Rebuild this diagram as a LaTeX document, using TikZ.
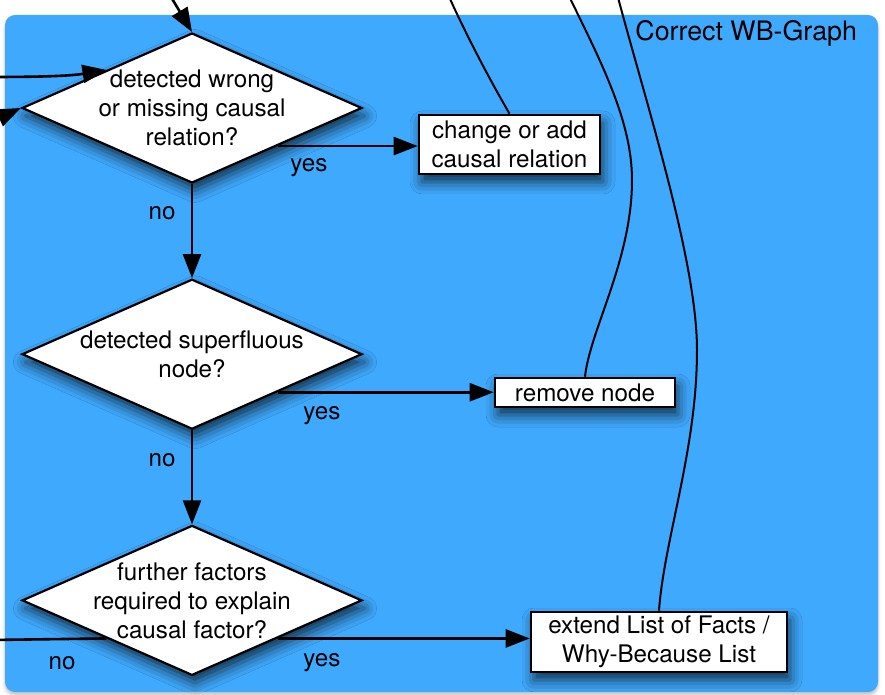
\documentclass[tikz,border=0pt]{standalone}
\usepackage{fontspec}
\setmainfont{TeX Gyre Heros}
\usetikzlibrary{positioning, shapes.geometric, fit, arrows.meta, calc, backgrounds, shadows.blur}
\definecolor{wbblue}{RGB}{63,169,253}

\begin{document}
\begin{tikzpicture}[
    x=0.5pt, y=-0.5pt,
    font=\fontsize{12.1}{14.5}\selectfont,
    arrow/.style={
        -{Triangle[length=12pt,width=9pt]},
        line width=1.3pt
    },
    curve/.style={
        line width=1pt
    },
    soft/.style={
        blur shadow={shadow xshift=1.5pt, shadow yshift=-4pt,
            shadow blur radius=6pt, shadow opacity=70}
    },
    frame/.style={
        rectangle,
        fill=wbblue,
        rounded corners=5pt,
        inner sep=0pt,
        blur shadow={shadow xshift=0pt, shadow yshift=-1.5pt,
            shadow blur radius=1.5pt, shadow opacity=25}
    },
    decision/.style={
        diamond,
        aspect=2.27,
        minimum width=170pt,
        minimum height=75pt,
        inner sep=0pt,
        fill=white,
        draw,
        line width=1.1pt,
        soft
    },
    action/.style={
        rectangle,
        inner sep=0pt,
        align=center,
        fill=white,
        draw,
        line width=1.3pt,
        soft
    },
    ask/.style={
        align=center,
        inner sep=0pt
    }
]
    \useasboundingbox (0,0) rectangle (885,695);

    % Decisions
    \node[decision, label={[ask]center:detected wrong\\or missing causal\\relation?}] (wrong) at (192,108) {};
    \node[decision, below=47pt of wrong, label={[ask]center:detected superfluous\\node?}] (superfl) {};
    \node[decision, below=47pt of superfl, label={[ask]center:further factors\\required to explain\\causal factor?}] (further) {};

    % Actions
    \node[action, minimum width=90.5pt, minimum height=29.5pt] (change) at (509.5,144.5) {change or add\\causal relation};
    \node[action, minimum width=90pt, minimum height=14.5pt] (remove) at (585,392.5) {remove node};
    \node[action, minimum width=128pt, minimum height=30pt] (extend) at (659,642) {extend List of Facts /\\Why-Because List};

    \coordinate (f1) at (5,15);
    \coordinate (f2) at (878,692);
    \begin{scope}[on background layer]
        \node[frame, fit=(f1) (f2)] (wbgraph) {};
    \end{scope}
    \node[anchor=east, font=\fontsize{13.4}{16}\selectfont] (title) at (864,33) {Correct WB-Graph};

    % Incoming
    \coordinate (in1) at (168,-8);
    \coordinate (in2) at (-10,77);
    \coordinate (in3) at (-10,122);
    \draw[arrow] (in1) -- (wrong.north);
    \draw[arrow] (in2) .. controls (40,77) and (70,76) .. (wrong.north west);
    \draw[arrow] (in3) -- (wrong.west);

    % Yes / no
    \draw[arrow] (wrong.south east) -- (wrong.south east -| change.west);
    \draw[arrow] (superfl.south east) -- (superfl.south east -| remove.west);
    \draw[arrow] (further.south east) -- (further.south east -| extend.west);
    \draw[arrow] (wrong) -- (superfl);
    \draw[arrow] (superfl) -- (further);
    \coordinate (out3) at (-10,640);
    \draw[line width=1.3pt] (further.south west) -- (out3);

    \node (yes1) at (309,168) {yes};
    \node (no1) at (162,213) {no};
    \node (yes2) at (322,416) {yes};
    \node (no2) at (162,460) {no};
    \node (no3) at (62,663) {no};
    \node (yes3) at (322,663) {yes};

    % Outgoing
    \coordinate (top1) at (446,-10);
    \coordinate (top2) at (566,-10);
    \coordinate (top3) at (616,-10);
    \draw[curve] (change.north) .. controls (490,80) and (466,35) .. (top1);
    \draw[curve] (remove.north) .. controls (590,330) and (632,260) .. (632,180)
        .. controls (632,120) and (600,60) .. (top2);
    \draw[curve] (extend.north) .. controls (664,540) and (697,450) .. (697,350)
        .. controls (697,260) and (645,100) .. (top3);
\end{tikzpicture}
\end{document}
